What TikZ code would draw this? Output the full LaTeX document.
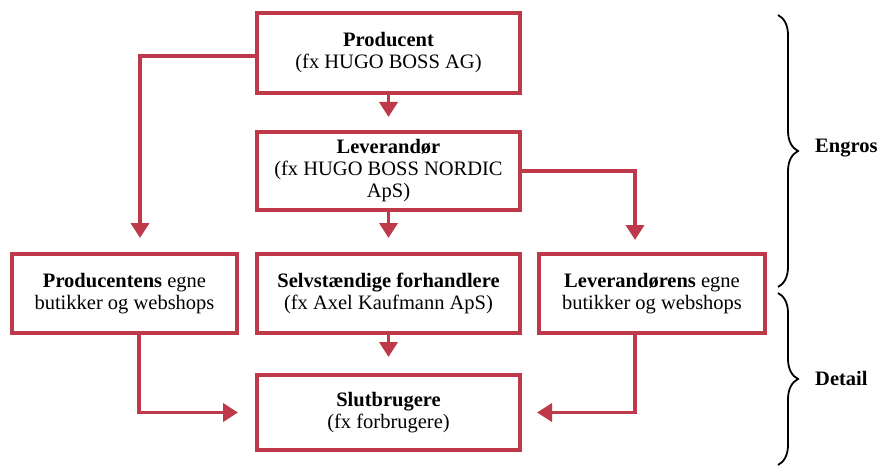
\documentclass[tikz,border=0pt]{standalone}
\usepackage{fontspec}
\setmainfont{Liberation Serif}
\usetikzlibrary{arrows.meta,decorations.pathreplacing,calc}
\definecolor{boxred}{RGB}{190,58,74}
\tikzset{
  box/.style={draw=boxred, line width=4pt, fill=white, align=center, inner sep=2pt,
    font=\fontsize{20.5}{22}\selectfont},
  conn/.style={draw=boxred, line width=3.8pt, -{Triangle[width=18pt,length=15pt]}, shorten >=14pt},
  brc/.style={draw=black, line width=1.8pt, decorate, decoration={brace, amplitude=20pt}},
  lbl/.style={anchor=west, inner sep=0pt, font=\fontsize{20.5}{22}\selectfont\bfseries},
}
\begin{document}
\begin{tikzpicture}[x=1pt,y=-1pt]
\useasboundingbox (0,0) rectangle (877,468);
% boxes
\node[box, minimum width=263pt, minimum height=80pt] (prod) at (388.5,53) {\textbf{Producent}\\(fx HUGO BOSS AG)};
\node[box, minimum width=263pt, minimum height=78pt] (lev) at (388.5,171) {\textbf{Leverandør}\\(fx HUGO BOSS NORDIC\\ApS)};
\node[box, minimum width=225pt, minimum height=79pt] (pe) at (124.5,293.5) {\textbf{Producentens} egne\\butikker og webshops};
\node[box, minimum width=263pt, minimum height=79pt] (self) at (388.5,293.5) {\textbf{Selvstændige forhandlere}\\(fx Axel Kaufmann ApS)};
\node[box, minimum width=226pt, minimum height=79pt] (le) at (652,293.5) {\textbf{Leverandørens} egne\\butikker og webshops};
\node[box, minimum width=263pt, minimum height=75pt] (slut) at (388.5,412.5) {\textbf{Slutbrugere}\\(fx forbrugere)};
% connectors
\draw[conn, shorten >=13pt] (prod.south) -- (lev.north);
\draw[conn] (lev.south) -- (self.north);
\draw[conn, shorten >=16pt] (self.south) -- (slut.north);
\draw[conn] ([yshift=-3pt]prod.west) -| ([xshift=15.5pt]pe.north);
\draw[conn, shorten >=12pt] (lev.east) -| ([xshift=-17pt]le.north);
\draw[conn, shorten >=17pt] ([xshift=14.5pt]pe.south) |- (slut.west);
\draw[conn, shorten >=15pt] ([xshift=-17pt]le.south) |- (slut.east);
% braces
\coordinate (e1) at (778,15);
\coordinate (e2) at (778,287);
\coordinate (d1) at (778,293);
\coordinate (d2) at (778,465);
\draw[brc] (e1) -- (e2);
\draw[brc] (d1) -- (d2);
\node[lbl] (engros) at (815,148) {Engros};
\node[lbl] (detail) at (815,378) {Detail};
\end{tikzpicture}
\end{document}
